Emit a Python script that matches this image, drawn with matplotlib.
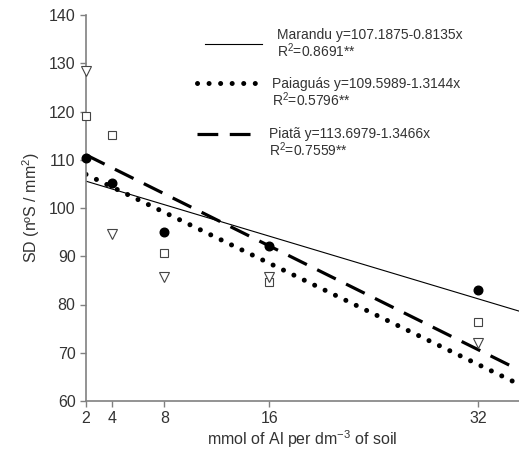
import matplotlib
matplotlib.use('Agg')
import numpy as np
import matplotlib.pyplot as plt

plt.rcParams['font.family'] = ['Liberation Sans', 'DejaVu Sans']
plt.rcParams['mathtext.fontset'] = 'custom'
plt.rcParams['mathtext.rm'] = 'Liberation Sans'
plt.rcParams['mathtext.it'] = 'Liberation Sans:italic'
plt.rcParams['mathtext.default'] = 'regular'

# data
al_doses = [2, 4, 8, 16, 32]
marandu_sd = [110.3, 105.2, 95.1, 92.2, 83.1]
piata_sd = [119.0, 115.1, 90.6, 84.6, 76.3]
paiaguas_sd = [128.3, 94.6, 85.8, 85.7, 72.1]

# regression coefficients (intercept, slope) from the legend
marandu_fit = (107.1875, -0.8135)
paiaguas_fit = (109.5989, -1.3144)
piata_fit = (113.6979, -1.3466)

legend_labels = [
    "Marandu y=107.1875-0.8135x\nR$^2$=0.8691**",
    "Paiaguás y=109.5989-1.3144x\nR$^2$=0.5796**",
    "Piatã y=113.6979-1.3466x\nR$^2$=0.7559**",
]

W, H = 519, 455
fig = plt.figure(figsize=(W / 100, H / 100), dpi=100)
ax = fig.add_axes([86 / W, 1 - 401 / H, (W - 86) / W, 386 / H])

XMAX = 35.1
xs = np.array([2, XMAX])
gray = '#808080'
txt = '#333333'

SOLID = dict(color='black', lw=0.8, linestyle='-')
DOTTED = dict(color='black', lw=3.6, linestyle=(0, (0.01, 2.3)), dash_capstyle='round')
DASHED = dict(color='black', lw=2.3, linestyle=(0, (6.5, 3.6)))

ax.plot(xs, marandu_fit[0] + marandu_fit[1] * xs, **SOLID)
ax.plot(xs, paiaguas_fit[0] + paiaguas_fit[1] * xs, **DOTTED)
ax.plot(xs, piata_fit[0] + piata_fit[1] * xs, **DASHED)

ax.plot(al_doses, marandu_sd, 'o', color='black', ms=6.2, clip_on=False, zorder=5)
ax.plot(al_doses, piata_sd, 's', mfc='white', mec='#444444', mew=0.8, ms=6, clip_on=False, zorder=5)
ax.plot(al_doses, paiaguas_sd, 'v', mfc='white', mec='#444444', mew=0.8, ms=7, clip_on=False, zorder=5)

ax.set_xlim(2, XMAX)
ax.set_ylim(60, 140)
ax.set_xticks(al_doses)
ax.set_yticks(range(60, 141, 10))
ax.tick_params(direction='out', length=4, width=1, color=gray, labelsize=11.5, labelcolor=txt)

for side in ['top', 'right']:
    ax.spines[side].set_visible(False)
for side in ['left', 'bottom']:
    ax.spines[side].set_color(gray)
    ax.spines[side].set_linewidth(1.2)

ax.set_ylabel("SD (nºS / mm$^2$)", fontsize=11.5, color=txt, labelpad=5)
ax.set_xlabel("mmol of Al per dm$^{-3}$ of soil", fontsize=11.5, color=txt, labelpad=1)

# legend drawn by hand in figure pixels
def fx(px):
    return px / W

def fy(py):
    return 1 - py / H

legend_rows = [
    (SOLID, 205, 262, 277, 44, 35),
    (DOTTED, 197, 258, 272, 83, 84),
    (DASHED, 197, 253, 269, 134, 134),
]
for (style, x0, x1, tx, ly, ty), label in zip(legend_rows, legend_labels):
    fig.add_artist(plt.Line2D([fx(x0), fx(x1)], [fy(ly), fy(ly)],
                              transform=fig.transFigure, **style))
    first, second = label.split('\n')
    fig.text(fx(tx), fy(ty), first, fontsize=10, color=txt, va='center')
    fig.text(fx(tx), fy(ty + 15.5), second, fontsize=10, color=txt, va='center')

fig.savefig('out.png', dpi=100, facecolor='white')
